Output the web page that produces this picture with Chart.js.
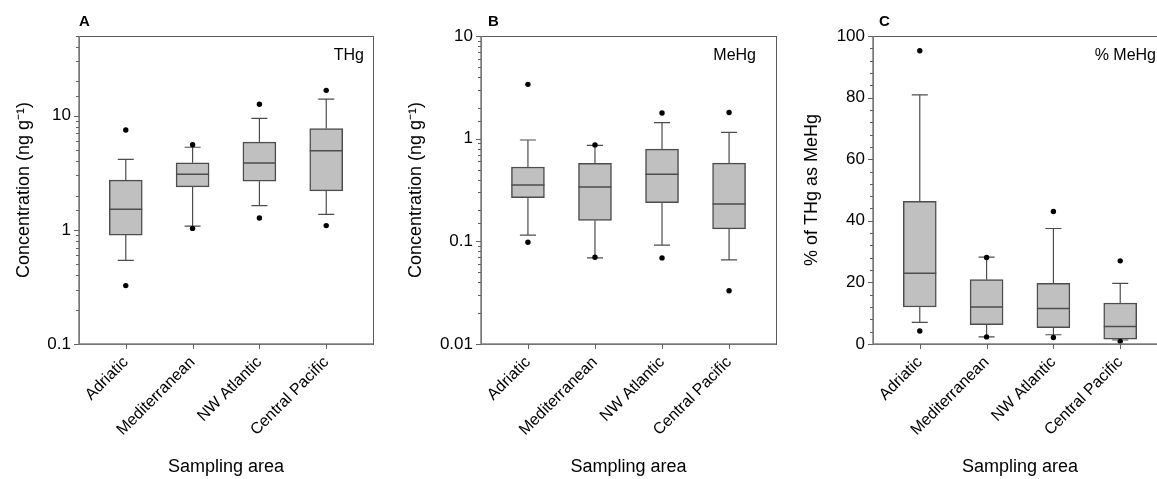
<!DOCTYPE html>
<html>
<head>
<meta charset="utf-8">
<script src="https://cdn.jsdelivr.net/npm/chart.js@4.4.0/dist/chart.umd.min.js"></script>
<style>
  html, body { margin: 0; padding: 0; background: #fff; overflow: hidden; width: 1157px; height: 479px; }
  canvas { position: absolute; top: 0; }
</style>
</head>
<body>
<canvas id="panelA" width="390" height="479" style="left:0px"></canvas>
<canvas id="panelB" width="390" height="479" style="left:390px"></canvas>
<canvas id="panelC" width="400" height="479" style="left:780px"></canvas>
<script>
// sampling areas (x categories)
const areas = ['Adriatic', 'Mediterranean', 'NW Atlantic', 'Central Pacific'];

// A - THg (ng g-1)
const thgLow = [0.54, 1.08, 1.63, 1.37];
const thgQ1 = [0.90, 2.38, 2.67, 2.20];
const thgMedian = [1.52, 3.08, 3.85, 4.93];
const thgQ3 = [2.73, 3.87, 5.88, 7.74];
const thgHigh = [4.14, 5.30, 9.5, 14.0];
const thgOutLow = [0.325, 1.03, 1.27, 1.09];
const thgOutHigh = [7.5, 5.57, 12.6, 16.7];

// B - MeHg (ng g-1)
const mehgLow = [0.115, 0.069, 0.092, 0.066];
const mehgQ1 = [0.266, 0.160, 0.238, 0.132];
const mehgMedian = [0.353, 0.338, 0.45, 0.231];
const mehgQ3 = [0.53, 0.574, 0.79, 0.578];
const mehgHigh = [0.97, 0.86, 1.43, 1.15];
const mehgOutLow = [0.098, 0.070, 0.069, 0.033];
const mehgOutHigh = [3.38, 0.87, 1.78, 1.80];

// C - % of THg as MeHg
const pctLow = [7.0, 2.3, 3.0, 1.3];
const pctQ1 = [12.0, 6.3, 5.3, 1.6];
const pctMedian = [23.0, 12.0, 11.5, 5.7];
const pctQ3 = [46.3, 20.9, 19.7, 13.3];
const pctHigh = [80.9, 28.2, 37.5, 19.7];
const pctOutLow = [4.2, 2.3, 2.1, 0.85];
const pctOutHigh = [95.2, 28.1, 43.0, 27.0];

// tick labels
const logTicksA = [0.1, 1, 10];
const logTicksB = [0.01, 0.1, 1, 10];
const pctTicks = [0, 20, 40, 60, 80, 100];

Chart.defaults.color = '#000';
Chart.defaults.font.family = '"Liberation Sans", Arial, sans-serif';

const lineColor = '#4d4d4d';

// whiskers, medians, frame, tick marks and panel texts
const boxPlugin = {
  id: 'boxes',
  beforeDatasetsDraw(chart, args, o) {
    const ctx = chart.ctx, x = chart.scales.x, y = chart.scales.y;
    ctx.save();
    ctx.strokeStyle = lineColor;
    ctx.lineWidth = 1.2;
    areas.forEach((a, i) => {
      const cx = x.getPixelForValue(i + 1);
      const capL = x.getPixelForValue(i + 1 - 0.12), capR = x.getPixelForValue(i + 1 + 0.12);
      [[o.q1[i], o.low[i]], [o.q3[i], o.high[i]]].forEach(([from, to]) => {
        const y0 = y.getPixelForValue(from), y1 = y.getPixelForValue(to);
        ctx.beginPath();
        ctx.moveTo(cx, y0); ctx.lineTo(cx, y1);
        ctx.moveTo(capL, y1); ctx.lineTo(capR, y1);
        ctx.stroke();
      });
    });
    ctx.restore();
  },
  afterDatasetsDraw(chart, args, o) {
    const ctx = chart.ctx, x = chart.scales.x, y = chart.scales.y;
    ctx.save();
    ctx.strokeStyle = lineColor;
    ctx.lineWidth = 1.5;
    areas.forEach((a, i) => {
      const l = x.getPixelForValue(i + 1) - 16.5, r = l + 33;
      const my = y.getPixelForValue(o.median[i]);
      ctx.beginPath(); ctx.moveTo(l, my); ctx.lineTo(r, my); ctx.stroke();
    });
    ctx.restore();
  },
  afterDraw(chart, args, o) {
    const ctx = chart.ctx, area = chart.chartArea, x = chart.scales.x, y = chart.scales.y;
    ctx.save();
    // frame
    ctx.strokeStyle = '#5a5a5a';
    ctx.lineWidth = 1;
    ctx.strokeRect(area.left + 0.5, area.top + 0.5, area.right - area.left, area.bottom - area.top);
    ctx.strokeStyle = '#808080';
    ctx.lineWidth = 1.5;
    ctx.beginPath();
    ctx.moveTo(area.left, area.top); ctx.lineTo(area.left, area.bottom); ctx.lineTo(area.right, area.bottom);
    ctx.stroke();
    // tick marks
    ctx.lineWidth = 1;
    ctx.strokeStyle = '#606060';
    y.ticks.forEach(t => {
      const py = Math.round(y.getPixelForValue(t.value)) + 0.5;
      const len = o.isMajor(t.value) ? 5 : 3;
      ctx.beginPath(); ctx.moveTo(area.left - len, py); ctx.lineTo(area.left, py); ctx.stroke();
    });
    x.ticks.forEach(t => {
      const px = Math.round(x.getPixelForValue(t.value)) + 0.5;
      ctx.beginPath(); ctx.moveTo(px, area.bottom); ctx.lineTo(px, area.bottom + 5); ctx.stroke();
    });
    // panel letter
    ctx.fillStyle = '#000';
    ctx.font = 'bold 15px "Liberation Sans", Arial, sans-serif';
    ctx.textBaseline = 'middle';
    ctx.textAlign = 'left';
    ctx.fillText(o.letter, area.left + o.letterDx, 22);
    // variable label
    ctx.font = '16px "Liberation Sans", Arial, sans-serif';
    ctx.textAlign = 'right';
    ctx.fillText(o.note, area.right - o.noteInset, 56);
    ctx.restore();
  }
};

const isDecade = v => Math.abs(Math.log10(v) - Math.round(Math.log10(v))) < 1e-6;

function makeChart(id, p) {
  const boxes = areas.map((a, i) => ({ x: i + 1, y: [p.q1[i], p.q3[i]] }));
  const outliers = [];
  areas.forEach((a, i) => {
    outliers.push({ x: i + 1, y: p.outLow[i] });
    outliers.push({ x: i + 1, y: p.outHigh[i] });
  });

  const yScale = p.log ? {
    type: 'logarithmic',
    min: p.min, max: p.max,
    ticks: {
      autoSkip: false, padding: 8, font: { size: 17 },
      callback: v => p.labels.some(l => Math.abs(l - v) < l * 1e-6) ? String(Number(v.toPrecision(3))) : ''
    }
  } : {
    type: 'linear',
    min: p.min, max: p.max,
    afterBuildTicks: s => {
      const t = [];
      for (let v = p.min; v <= p.max; v += 4) t.push({ value: v });
      s.ticks = t;
    },
    ticks: {
      autoSkip: false, padding: 8, font: { size: 17 },
      callback: v => p.labels.includes(v) ? String(v) : ''
    }
  };
  Object.assign(yScale, {
    grid: { display: false, drawTicks: false },
    border: { display: false },
    title: { display: true, text: p.yTitle, font: { size: 18 }, padding: { top: p.titlePad, bottom: 0 } },
    afterFit: s => { s.width = p.yWidth; }
  });

  return new Chart(document.getElementById(id), {
    type: 'bar',
    data: {
      datasets: [
        {
          type: 'bar',
          data: boxes,
          backgroundColor: '#c0c0c0',
          borderColor: lineColor,
          borderWidth: 1.5,
          borderSkipped: false,
          barThickness: 33,
          order: 2
        },
        {
          type: 'scatter',
          data: outliers,
          backgroundColor: '#000',
          borderWidth: 0,
          pointRadius: 2.7,
          order: 1
        }
      ]
    },
    options: {
      responsive: false,
      animation: false,
      layout: { padding: { left: 0, right: p.padRight, top: 36, bottom: 0 } },
      plugins: {
        legend: { display: false },
        tooltip: { enabled: false },
        boxes: {
          low: p.low, q1: p.q1, median: p.median, q3: p.q3, high: p.high,
          letter: p.letter, letterDx: p.letterDx, note: p.note, noteInset: p.noteInset,
          isMajor: p.log ? isDecade : (v => v % 20 === 0)
        }
      },
      scales: {
        x: {
          type: 'linear',
          offset: false,
          min: 0.3, max: 4.7,
          afterBuildTicks: s => { s.ticks = areas.map((a, i) => ({ value: i + 1 })); },
          grid: { display: false, drawTicks: false, offset: false },
          border: { display: false },
          ticks: {
            autoSkip: false, minRotation: 45, maxRotation: 45, padding: 9, font: { size: 16 },
            callback: v => areas[Math.round(v) - 1]
          },
          title: { display: true, text: 'Sampling area', font: { size: 18 }, padding: { top: 0, bottom: 1 } },
          afterFit: s => { s.height = 135; }
        },
        y: yScale
      }
    },
    plugins: [boxPlugin]
  });
}

makeChart('panelA', {
  log: true, min: 0.1, max: 50, labels: logTicksA,
  low: thgLow, q1: thgQ1, median: thgMedian, q3: thgQ3, high: thgHigh,
  outLow: thgOutLow, outHigh: thgOutHigh,
  yTitle: 'Concentration (ng g\u207B\u00B9)', titlePad: 13, yWidth: 79, padRight: 17,
  letter: 'A', letterDx: 0, note: 'THg', noteInset: 9
});

makeChart('panelB', {
  log: true, min: 0.01, max: 10, labels: logTicksB,
  low: mehgLow, q1: mehgQ1, median: mehgMedian, q3: mehgQ3, high: mehgHigh,
  outLow: mehgOutLow, outHigh: mehgOutHigh,
  yTitle: 'Concentration (ng g\u207B\u00B9)', titlePad: 15, yWidth: 91, padRight: 4,
  letter: 'B', letterDx: 7, note: 'MeHg', noteInset: 20
});

makeChart('panelC', {
  log: false, min: 0, max: 100, labels: pctTicks,
  low: pctLow, q1: pctQ1, median: pctMedian, q3: pctQ3, high: pctHigh,
  outLow: pctOutLow, outHigh: pctOutHigh,
  yTitle: '% of THg as MeHg', titlePad: 21, yWidth: 93, padRight: 13,
  letter: 'C', letterDx: 6, note: '% MeHg', noteInset: 11
});
</script>
</body>
</html>
